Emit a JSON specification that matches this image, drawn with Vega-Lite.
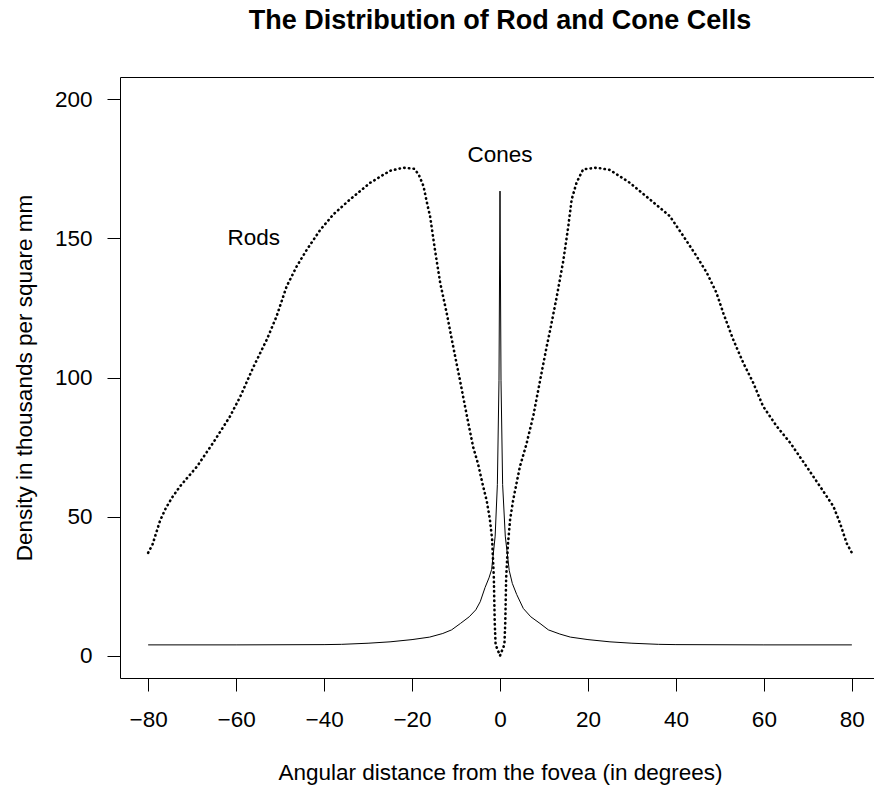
{
  "$schema": "https://vega.github.io/schema/vega-lite/v6.json",
  "width": 760,
  "height": 601,
  "autosize": {"type": "none"},
  "padding": {"left": 120, "top": 77, "right": 0, "bottom": 110},
  "background": "white",
  "title": {
    "text": "The Distribution of Rod and Cone Cells",
    "font": "Liberation Sans",
    "fontSize": 27,
    "fontWeight": "bold",
    "color": "black",
    "anchor": "middle",
    "offset": 42
  },
  "datasets": {
    "rods": [
      {"x": -80, "y": 37}, {"x": -79, "y": 40}, {"x": -78.4, "y": 43}, {"x": -77.3, "y": 48.5},
      {"x": -76, "y": 53}, {"x": -74.5, "y": 57}, {"x": -72.7, "y": 61}, {"x": -68.9, "y": 68},
      {"x": -65.2, "y": 76.6}, {"x": -61.4, "y": 86}, {"x": -59.1, "y": 93}, {"x": -56, "y": 104},
      {"x": -53, "y": 113.7}, {"x": -50.8, "y": 122}, {"x": -48.5, "y": 132.8}, {"x": -46.2, "y": 140},
      {"x": -43.9, "y": 146}, {"x": -40.9, "y": 153}, {"x": -37.9, "y": 158.6}, {"x": -34.1, "y": 164},
      {"x": -29.5, "y": 170}, {"x": -25, "y": 174.3}, {"x": -22, "y": 175.4}, {"x": -19.5, "y": 175},
      {"x": -18.5, "y": 173}, {"x": -17.4, "y": 168.8}, {"x": -16.5, "y": 162}, {"x": -15.9, "y": 158},
      {"x": -14.8, "y": 146}, {"x": -13.6, "y": 134}, {"x": -12.1, "y": 123}, {"x": -11, "y": 114},
      {"x": -10, "y": 106}, {"x": -9.1, "y": 99}, {"x": -8, "y": 90}, {"x": -7, "y": 82},
      {"x": -6.1, "y": 75}, {"x": -5, "y": 69}, {"x": -4, "y": 62}, {"x": -3, "y": 55.5},
      {"x": -2.3, "y": 49}, {"x": -1.8, "y": 42}, {"x": -1.4, "y": 28}, {"x": -1.2, "y": 12},
      {"x": -1, "y": 4}, {"x": 0, "y": 0},
      {"x": 1, "y": 4}, {"x": 1.2, "y": 12}, {"x": 1.4, "y": 28}, {"x": 1.8, "y": 40},
      {"x": 2.3, "y": 49}, {"x": 3, "y": 56}, {"x": 4.5, "y": 67.8}, {"x": 6, "y": 76},
      {"x": 7.6, "y": 86.4}, {"x": 9, "y": 98}, {"x": 10.6, "y": 111}, {"x": 11.4, "y": 117},
      {"x": 12.9, "y": 129}, {"x": 14.4, "y": 142}, {"x": 15.5, "y": 154}, {"x": 16.3, "y": 164},
      {"x": 17.4, "y": 170}, {"x": 18.9, "y": 174.8}, {"x": 22, "y": 175.4}, {"x": 25, "y": 174.6},
      {"x": 29.5, "y": 170}, {"x": 34.1, "y": 164}, {"x": 38.6, "y": 158}, {"x": 41.7, "y": 150.8},
      {"x": 44.7, "y": 143.6}, {"x": 47, "y": 137.7}, {"x": 49.2, "y": 130.5}, {"x": 50.8, "y": 123},
      {"x": 53, "y": 113.7}, {"x": 55.3, "y": 105.3}, {"x": 57.6, "y": 98}, {"x": 59.8, "y": 89.7},
      {"x": 62.9, "y": 82.5}, {"x": 66, "y": 76.5}, {"x": 69.7, "y": 68}, {"x": 72.7, "y": 61},
      {"x": 75.8, "y": 53.7}, {"x": 77.3, "y": 47.7}, {"x": 78.8, "y": 40.5}, {"x": 80, "y": 37}
    ],
    "cones": [
      {"x": -80, "y": 3.9}, {"x": -60, "y": 3.9}, {"x": -40, "y": 4.0}, {"x": -36, "y": 4.1},
      {"x": -30, "y": 4.5}, {"x": -25, "y": 5.0}, {"x": -20, "y": 5.8}, {"x": -16, "y": 6.7},
      {"x": -13, "y": 8.0}, {"x": -11, "y": 9.3}, {"x": -9, "y": 11.6}, {"x": -7, "y": 14},
      {"x": -5.5, "y": 16.5}, {"x": -4.5, "y": 19.4}, {"x": -3.4, "y": 24.5}, {"x": -2.5, "y": 28},
      {"x": -1.9, "y": 31}, {"x": -1.1, "y": 43}, {"x": -0.6, "y": 61.5}, {"x": -0.23, "y": 99},
      {"x": 0, "y": 167},
      {"x": 0.23, "y": 99}, {"x": 0.6, "y": 61.5}, {"x": 1.2, "y": 43}, {"x": 2.1, "y": 30.6},
      {"x": 2.8, "y": 26}, {"x": 3.8, "y": 22}, {"x": 5.3, "y": 17}, {"x": 7, "y": 14},
      {"x": 9.1, "y": 11.6}, {"x": 11, "y": 9.3}, {"x": 13.6, "y": 7.8}, {"x": 16, "y": 6.7},
      {"x": 20, "y": 5.8}, {"x": 25, "y": 5.0}, {"x": 30, "y": 4.5}, {"x": 36, "y": 4.1},
      {"x": 40, "y": 4.0}, {"x": 60, "y": 3.9}, {"x": 80, "y": 3.9}
    ],
    "labels": [
      {"x": -56, "y": 150, "label": "Rods"},
      {"x": 0, "y": 180, "label": "Cones"}
    ]
  },
  "encoding": {
    "x": {
      "field": "x", "type": "quantitative",
      "scale": {"domain": [-86.4, 86.4], "nice": false, "zero": false},
      "axis": {
        "title": "Angular distance from the fovea (in degrees)",
        "values": [-80, -60, -40, -20, 0, 20, 40, 60, 80],
        "labelPadding": 17,
        "titlePadding": 31
      }
    },
    "y": {
      "field": "y", "type": "quantitative",
      "scale": {"domain": [-8, 208], "nice": false, "zero": false},
      "axis": {
        "title": "Density in thousands per square mm",
        "values": [0, 50, 100, 150, 200],
        "labelPadding": 15,
        "titlePadding": 18
      }
    }
  },
  "layer": [
    {
      "data": {"name": "rods"},
      "mark": {"type": "line", "color": "black", "strokeWidth": 2.6, "strokeDash": [0.4, 4.3], "strokeCap": "round"}
    },
    {
      "data": {"name": "cones"},
      "mark": {"type": "line", "color": "black", "strokeWidth": 1}
    },
    {
      "data": {"name": "labels"},
      "mark": {"type": "text", "font": "Liberation Sans", "fontSize": 22.5, "color": "black", "align": "center", "baseline": "middle"},
      "encoding": {"text": {"field": "label"}}
    }
  ],
  "config": {
    "view": {"stroke": "black", "strokeWidth": 1},
    "axis": {
      "domain": false,
      "grid": false,
      "ticks": true,
      "tickColor": "black",
      "tickSize": 13,
      "tickWidth": 1,
      "labelFont": "Liberation Sans",
      "labelFontSize": 22.5,
      "labelColor": "black",
      "titleFont": "Liberation Sans",
      "titleFontSize": 22.5,
      "titleFontWeight": "normal",
      "titleColor": "black"
    },
    "axisY": {"labelAngle": 0}
  }
}
